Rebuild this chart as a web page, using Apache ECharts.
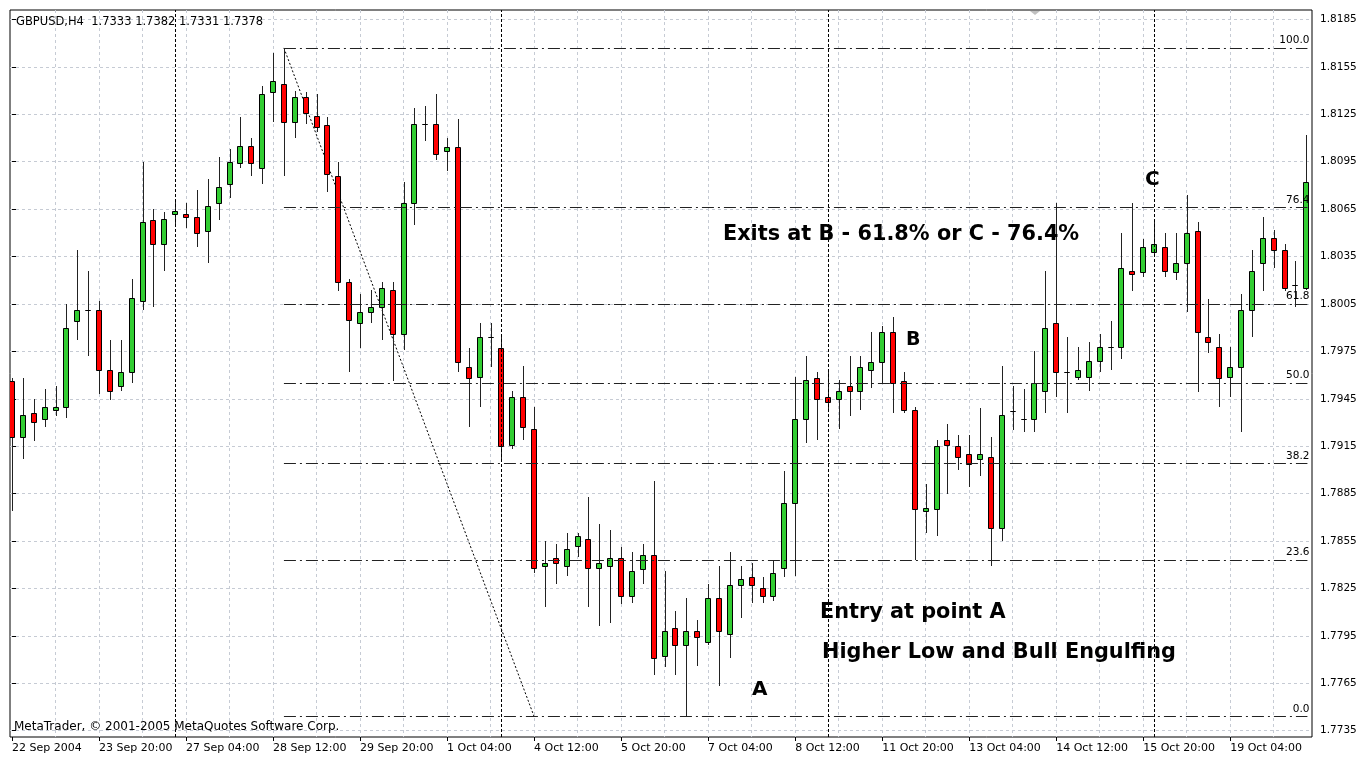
<!DOCTYPE html>
<html>
<head>
<meta charset="utf-8">
<title>GBPUSD,H4</title>
<script src="https://cdn.jsdelivr.net/npm/echarts@6/dist/echarts.min.js"></script>
<style>
  html, body { margin: 0; padding: 0; background: #fff; }
  #main { width: 1360px; height: 757px; }
</style>
</head>
<body>
<div id="main"></div>
<script>
// GBPUSD H4 bars, 22 Sep - 19 Oct 2004
const opens = [
  1.7956, 1.7921, 1.7936, 1.7932, 1.7938, 1.7940, 1.7994, 1.8001, 1.8001, 1.7963,
  1.7953, 1.7962, 1.8007, 1.8058, 1.8043, 1.8062, 1.8062, 1.8060, 1.8051, 1.8069,
  1.8081, 1.8094, 1.8105, 1.8091, 1.8139, 1.8144, 1.8120, 1.8136, 1.8124, 1.8118,
  1.8086, 1.8019, 1.7993, 1.8000, 1.8003, 1.8014, 1.7986, 1.8069, 1.8119, 1.8119,
  1.8102, 1.8104, 1.7965, 1.7959, 1.7984, 1.7977, 1.7916, 1.7946, 1.7926, 1.7839,
  1.7844, 1.7839, 1.7852, 1.7856, 1.7838, 1.7839, 1.7844, 1.7820, 1.7837, 1.7846,
  1.7782, 1.7800, 1.7789, 1.7798, 1.7791, 1.7819, 1.7796, 1.7827, 1.7832, 1.7825,
  1.7820, 1.7838, 1.7879, 1.7932, 1.7958, 1.7946, 1.7945, 1.7953, 1.7950, 1.7963,
  1.7968, 1.7987, 1.7956, 1.7938, 1.7874, 1.7875, 1.7919, 1.7915, 1.7910, 1.7907,
  1.7908, 1.7863, 1.7937, 1.7932, 1.7932, 1.7950, 1.7993, 1.7962, 1.7959, 1.7959,
  1.7969, 1.7978, 1.7978, 1.8026, 1.8025, 1.8038, 1.8041, 1.8025, 1.8031, 1.8051,
  1.7984, 1.7978, 1.7959, 1.7965, 1.8001, 1.8031, 1.8047, 1.8039, 1.8017, 1.8015
]
const highs = [
  1.7958, 1.7958, 1.7945, 1.7951, 1.7953, 1.8005, 1.8039, 1.8026, 1.8007, 1.7982,
  1.7982, 1.8021, 1.8095, 1.8065, 1.8063, 1.8070, 1.8069, 1.8077, 1.8084, 1.8098,
  1.8103, 1.8123, 1.8110, 1.8143, 1.8164, 1.8167, 1.8140, 1.8139, 1.8138, 1.8123,
  1.8095, 1.8021, 1.8011, 1.8014, 1.8019, 1.8019, 1.8082, 1.8129, 1.8130, 1.8138,
  1.8110, 1.8122, 1.7977, 1.7993, 1.7993, 1.7984, 1.7950, 1.7966, 1.7940, 1.7855,
  1.7853, 1.7860, 1.7860, 1.7883, 1.7866, 1.7862, 1.7851, 1.7848, 1.7853, 1.7893,
  1.7836, 1.7811, 1.7819, 1.7805, 1.7828, 1.7839, 1.7848, 1.7839, 1.7841, 1.7832,
  1.7843, 1.7899, 1.7959, 1.7972, 1.7962, 1.7963, 1.7957, 1.7972, 1.7972, 1.7987,
  1.7991, 1.7997, 1.7962, 1.7940, 1.7891, 1.7919, 1.7929, 1.7922, 1.7922, 1.7939,
  1.7921, 1.7966, 1.7953, 1.7951, 1.7975, 1.8026, 1.8069, 1.7984, 1.7978, 1.7981,
  1.7986, 1.7994, 1.8050, 1.8069, 1.8046, 1.8057, 1.8050, 1.8050, 1.8074, 1.8057,
  1.8008, 1.7986, 1.7978, 1.8011, 1.8039, 1.8060, 1.8052, 1.8043, 1.8032, 1.8112
]
const lows = [
  1.7874, 1.7907, 1.7918, 1.7927, 1.7934, 1.7933, 1.7982, 1.7972, 1.7948, 1.7944,
  1.7950, 1.7955, 1.8001, 1.8003, 1.8026, 1.8055, 1.8053, 1.8041, 1.8031, 1.8058,
  1.8072, 1.8091, 1.8086, 1.8081, 1.8120, 1.8086, 1.8110, 1.8119, 1.8114, 1.8076,
  1.8013, 1.7962, 1.7977, 1.7993, 1.7982, 1.7956, 1.7976, 1.8055, 1.8108, 1.8096,
  1.8089, 1.7962, 1.7927, 1.7940, 1.7965, 1.7905, 1.7913, 1.7919, 1.7835, 1.7813,
  1.7828, 1.7833, 1.7845, 1.7813, 1.7801, 1.7803, 1.7815, 1.7816, 1.7828, 1.7770,
  1.7775, 1.7770, 1.7744, 1.7776, 1.7789, 1.7763, 1.7781, 1.7806, 1.7816, 1.7816,
  1.7817, 1.7832, 1.7833, 1.7917, 1.7919, 1.7938, 1.7926, 1.7934, 1.7938, 1.7952,
  1.7955, 1.7936, 1.7936, 1.7843, 1.7860, 1.7858, 1.7885, 1.7900, 1.7889, 1.7896,
  1.7839, 1.7855, 1.7925, 1.7924, 1.7924, 1.7936, 1.7946, 1.7936, 1.7957, 1.7950,
  1.7962, 1.7963, 1.7970, 1.8013, 1.8022, 1.8035, 1.8022, 1.8020, 1.8000, 1.7949,
  1.7974, 1.7940, 1.7946, 1.7924, 1.7984, 1.8013, 1.8028, 1.8013, 1.8003, 1.8014
]
const closes = [
  1.7921, 1.7935, 1.7930, 1.7940, 1.7940, 1.7990, 1.8001, 1.8001, 1.7963, 1.7950,
  1.7962, 1.8009, 1.8057, 1.8043, 1.8059, 1.8064, 1.8060, 1.8050, 1.8067, 1.8079,
  1.8095, 1.8105, 1.8094, 1.8138, 1.8146, 1.8120, 1.8136, 1.8126, 1.8117, 1.8087,
  1.8019, 1.7995, 1.8000, 1.8003, 1.8015, 1.7986, 1.8069, 1.8119, 1.8119, 1.8100,
  1.8104, 1.7968, 1.7958, 1.7984, 1.7984, 1.7915, 1.7946, 1.7927, 1.7838, 1.7841,
  1.7841, 1.7850, 1.7858, 1.7838, 1.7841, 1.7844, 1.7820, 1.7836, 1.7846, 1.7781,
  1.7798, 1.7789, 1.7798, 1.7794, 1.7819, 1.7798, 1.7827, 1.7831, 1.7827, 1.7820,
  1.7835, 1.7879, 1.7932, 1.7957, 1.7945, 1.7943, 1.7950, 1.7950, 1.7965, 1.7968,
  1.7987, 1.7955, 1.7938, 1.7875, 1.7876, 1.7915, 1.7916, 1.7908, 1.7904, 1.7910,
  1.7863, 1.7935, 1.7937, 1.7932, 1.7955, 1.7990, 1.7962, 1.7962, 1.7963, 1.7969,
  1.7978, 1.7978, 1.8028, 1.8024, 1.8041, 1.8043, 1.8026, 1.8031, 1.8050, 1.7987,
  1.7981, 1.7958, 1.7965, 1.8001, 1.8026, 1.8047, 1.8039, 1.8015, 1.8017, 1.8082
]

// time axis: a label every 8 bars, dashed grid every 4 bars
const labelBars = [0, 8, 16, 24, 32, 40, 48, 56, 64, 72, 80, 88, 96, 104, 112]
const timeLabels = [
  '22 Sep 2004', '23 Sep 20:00', '27 Sep 04:00', '28 Sep 12:00', '29 Sep 20:00',
  '1 Oct 04:00', '4 Oct 12:00', '5 Oct 20:00', '7 Oct 04:00', '8 Oct 12:00',
  '11 Oct 20:00', '13 Oct 04:00', '14 Oct 12:00', '15 Oct 20:00', '19 Oct 04:00'
]
const gridBars = [4, 8, 12, 16, 20, 24, 28, 32, 36, 40, 44, 48, 52, 56, 60, 64, 68,
  72, 76, 80, 84, 88, 92, 96, 100, 104, 108, 112, 116]
// first bar of each week (period separators)
const weekBars = [15, 45, 75, 105]

// price scale
const priceTicks = [1.7735, 1.7765, 1.7795, 1.7825, 1.7855, 1.7885, 1.7915, 1.7945,
  1.7975, 1.8005, 1.8035, 1.8065, 1.8095, 1.8125, 1.8155, 1.8185]

// fibonacci retracement, high of bar 25 -> low anchor at bar 48
const fibLabels = ['0.0', '23.6', '38.2', '50.0', '61.8', '76.4', '100.0']
const fibPrices = [1.7744, 1.7843, 1.7904, 1.7955, 1.8005, 1.8066, 1.8167]
const fibFromBar = 25
const fibToBar = 48
const fibEndBar = 119.1

const headerQuote = [1.7333, 1.7382, 1.7331, 1.7378]

const UP = '#32cd32'
const DOWN = '#ff0000'
const FONT = '"DejaVu Sans", Verdana, sans-serif'

const candles = opens.map((o, i) => [i, o, closes[i], lows[i], highs[i]])

function renderCandle(params, api) {
  const i = api.value(0)
  const o = api.value(1)
  const c = api.value(2)
  const pO = api.coord([i, o])
  const pC = api.coord([i, c])
  const pL = api.coord([i, api.value(3)])
  const pH = api.coord([i, api.value(4)])
  const cx = Math.round(pO[0]) + 0.5
  const top = Math.round(Math.min(pO[1], pC[1])) + 0.5
  const bot = Math.round(Math.max(pO[1], pC[1])) + 0.5
  return {
    type: 'group',
    children: [
      {
        type: 'line',
        shape: { x1: cx, y1: Math.round(pH[1]), x2: cx, y2: Math.round(pL[1]) },
        style: { stroke: '#222', lineWidth: 1 }
      },
      {
        type: 'rect',
        shape: { x: cx - 3, y: top, width: 5, height: bot - top },
        style: { fill: c > o ? UP : DOWN, stroke: '#000', lineWidth: 1 }
      }
    ]
  }
}

const chart = echarts.init(document.getElementById('main'))

chart.setOption({
  animation: false,
  backgroundColor: '#fff',
  textStyle: { fontFamily: FONT },
  grid: {
    left: 10,
    top: 10,
    right: 48,
    bottom: 20,
    show: true,
    borderColor: '#000',
    borderWidth: 1
  },
  xAxis: [{
    type: 'value',
    min: -0.184,
    max: 119.52,
    axisLine: { show: false },
    axisTick: { show: false, customValues: gridBars },
    axisLabel: { show: false },
    splitLine: {
      show: true,
      lineStyle: { color: '#c6cbd4', type: [3, 3], width: 1 }
    }
  }, {
    type: 'value',
    min: -0.184,
    max: 119.52,
    position: 'bottom',
    axisLine: { show: false },
    axisTick: {
      show: true,
      customValues: labelBars,
      length: 4,
      lineStyle: { color: '#000' }
    },
    axisLabel: {
      customValues: labelBars,
      formatter: v => timeLabels[labelBars.indexOf(v)] || '',
      align: 'left',
      margin: 6,
      color: '#000',
      fontSize: 11,
      fontFamily: FONT
    },
    splitLine: { show: false }
  }],
  yAxis: {
    type: 'value',
    position: 'right',
    min: 1.7731,
    max: 1.8191,
    axisLine: { show: false },
    axisTick: {
      show: true,
      customValues: priceTicks,
      length: 4,
      lineStyle: { color: '#000' }
    },
    axisLabel: {
      customValues: priceTicks,
      formatter: v => v.toFixed(4),
      margin: 8,
      color: '#000',
      fontSize: 10.5,
      fontFamily: FONT
    },
    splitLine: {
      show: true,
      lineStyle: { color: '#c6cbd4', type: [3, 3], width: 1 }
    }
  },
  series: [{
    // fibonacci trend line + levels, weekly separators
    type: 'line',
    data: [[fibFromBar, fibPrices[6]], [fibToBar, fibPrices[0]]],
    symbol: 'none',
    silent: true,
    lineStyle: { color: '#000', width: 1, type: [2, 2] },
    z: 2,
    markLine: {
      silent: true,
      symbol: ['none', 'none'],
      animation: false,
      data: fibPrices.map((p, k) => [{
        coord: [fibFromBar, p],
        lineStyle: { color: '#222', width: 1, type: [12, 4, 2, 4] },
        label: {
          show: true,
          position: 'insideEndTop',
          distance: [-2, 2],
          formatter: fibLabels[k],
          color: '#000',
          fontSize: 10.5,
          fontFamily: FONT
        }
      }, {
        coord: [fibEndBar, p]
      }]).concat(weekBars.map(b => ({
        xAxis: b,
        lineStyle: { color: '#000', width: 1, type: [3, 2] },
        label: { show: false }
      })))
    }
  }, {
    type: 'custom',
    renderItem: renderCandle,
    data: candles,
    encode: { x: 0, y: [1, 2, 3, 4] },
    clip: true,
    silent: true,
    z: 3
  }],
  graphic: [{
    type: 'text',
    x: 16,
    y: 22,
    z: 10,
    style: {
      text: 'GBPUSD,H4  ' + headerQuote.map(v => v.toFixed(4)).join(' '),
      font: '11.5px ' + FONT,
      fill: '#000',
      verticalAlign: 'middle'
    }
  }, {
    type: 'text',
    x: 14,
    y: 727,
    z: 10,
    style: {
      text: 'MetaTrader, \u00a9 2001-2005 MetaQuotes Software Corp.',
      font: '12px ' + FONT,
      fill: '#000',
      verticalAlign: 'middle'
    }
  }, {
    type: 'text',
    x: 723,
    y: 235,
    z: 10,
    style: {
      text: 'Exits at B - 61.8% or C - 76.4%',
      font: 'bold 20.8px ' + FONT,
      fill: '#000',
      verticalAlign: 'middle'
    }
  }, {
    type: 'text',
    x: 820,
    y: 613,
    z: 10,
    style: {
      text: 'Entry at point A',
      font: 'bold 20.8px ' + FONT,
      fill: '#000',
      verticalAlign: 'middle'
    }
  }, {
    type: 'text',
    x: 822,
    y: 653,
    z: 10,
    style: {
      text: 'Higher Low and Bull Engulfing',
      font: 'bold 20.8px ' + FONT,
      fill: '#000',
      verticalAlign: 'middle'
    }
  }, {
    type: 'text',
    x: 752,
    y: 690,
    z: 10,
    style: { text: 'A', font: 'bold 20px ' + FONT, fill: '#000', verticalAlign: 'middle' }
  }, {
    type: 'text',
    x: 906,
    y: 340,
    z: 10,
    style: { text: 'B', font: 'bold 19px ' + FONT, fill: '#000', verticalAlign: 'middle' }
  }, {
    type: 'text',
    x: 1145,
    y: 180,
    z: 10,
    style: { text: 'C', font: 'bold 20px ' + FONT, fill: '#000', verticalAlign: 'middle' }
  }, {
    // chart shift marker
    type: 'polygon',
    shape: { points: [[1030, 11], [1040, 11], [1035, 15]] },
    style: { fill: '#c0c0c0' }
  }]
})
</script>
</body>
</html>
